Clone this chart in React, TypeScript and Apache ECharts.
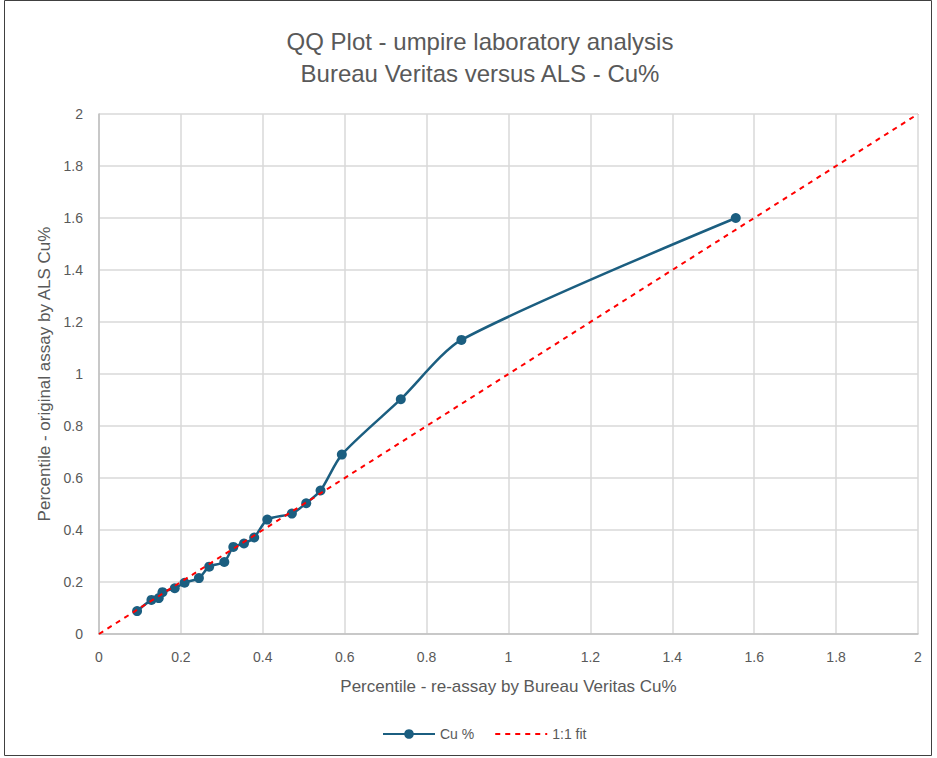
import React, { useEffect, useRef } from "react";
import * as echarts from "echarts";

const titleLines = ["QQ Plot - umpire laboratory analysis", "Bureau Veritas versus ALS - Cu%"];
const xAxisName = "Percentile - re-assay by Bureau Veritas Cu%";
const yAxisName = "Percentile - original assay by ALS Cu%";
const seriesName = "Cu %";
const fitName = "1:1 fit";

// Bureau Veritas (x) percentiles
const bvValues = [
  0.093, 0.128, 0.146, 0.155, 0.185, 0.209, 0.244, 0.269, 0.306, 0.328, 0.354, 0.379,
  0.411, 0.471, 0.506, 0.541, 0.593, 0.737, 0.885, 1.555,
];
// ALS (y) percentiles
const alsValues = [
  0.088, 0.131, 0.138, 0.161, 0.176, 0.197, 0.215, 0.259, 0.277, 0.335, 0.348, 0.371,
  0.44, 0.463, 0.503, 0.552, 0.69, 0.903, 1.131, 1.6,
];
const fitX = [0, 2];
const fitY = [0, 2];

export default function App() {
  const ref = useRef<HTMLDivElement>(null);
  useEffect(() => {
    if (!ref.current) return;
    const chart = echarts.init(ref.current, null, { renderer: "svg" });
    const font = "'Liberation Sans', Arial, sans-serif";
    const grey = "#595959";
    chart.setOption({
      animation: false,
      backgroundColor: "#ffffff",
      title: {
        text: titleLines.join("\n"),
        left: 475,
        top: 20,
        textAlign: "center",
        textStyle: {
          fontFamily: font,
          fontSize: 24,
          fontWeight: "normal",
          color: grey,
          lineHeight: 32,
        },
      },
      graphic: [
        {
          type: "rect",
          shape: { x: 4.5, y: 0.5, width: 927, height: 755 },
          style: { fill: "none", stroke: "#404040", lineWidth: 1 },
          silent: true,
        },
      ],
      legend: {
        bottom: 12,
        left: 377,
        itemWidth: 52,
        itemHeight: 12,
        itemGap: 20,
        textStyle: { fontFamily: font, fontSize: 14, color: grey },
        data: [
          { name: seriesName },
          { name: fitName, itemStyle: { color: "transparent", borderWidth: 0 } },
        ],
      },
      grid: { left: 99, right: 19, top: 114, bottom: 124, containLabel: false },
      xAxis: {
        type: "value",
        min: 0,
        max: 2,
        interval: 0.2,
        name: xAxisName,
        nameLocation: "middle",
        nameGap: 44,
        nameTextStyle: { fontFamily: font, fontSize: 17, color: grey },
        axisLine: { show: true, lineStyle: { color: "#bfbfbf", width: 1.5 } },
        axisTick: { show: false },
        axisLabel: {
          fontFamily: font,
          fontSize: 14,
          color: grey,
          margin: 16,
          formatter: (v: number) => String(Math.round(v * 10) / 10),
        },
        splitLine: { show: true, lineStyle: { color: "#d9d9d9", width: 1.5 } },
      },
      yAxis: {
        type: "value",
        min: 0,
        max: 2,
        interval: 0.2,
        name: yAxisName,
        nameLocation: "middle",
        nameGap: 46,
        nameTextStyle: { fontFamily: font, fontSize: 17, color: grey },
        axisLine: { show: true, lineStyle: { color: "#bfbfbf", width: 1.5 } },
        axisTick: { show: false },
        axisLabel: {
          fontFamily: font,
          fontSize: 14,
          color: grey,
          margin: 16,
          formatter: (v: number) => String(Math.round(v * 10) / 10),
        },
        splitLine: { show: true, lineStyle: { color: "#d9d9d9", width: 1.5 } },
      },
      series: [
        {
          name: seriesName,
          type: "line",
          data: bvValues.map((x, i) => [x, alsValues[i]]),
          smooth: 0.25,
          symbol: "circle",
          symbolSize: 10,
          itemStyle: { color: "#1b5e80" },
          lineStyle: { color: "#1b5e80", width: 2.5 },
          z: 3,
        },
        {
          name: fitName,
          type: "line",
          data: fitX.map((x, i) => [x, fitY[i]]),
          symbol: "none",
          itemStyle: { color: "#ff0000" },
          lineStyle: { color: "#ff0000", width: 2, type: [5, 5] },
          z: 4,
        },
      ],
    });
    return () => chart.dispose();
  }, []);
  return (
    <div
      ref={ref}
      style={{ position: "fixed", left: 0, top: 0, width: 937, height: 758 }}
    />
  );
}
